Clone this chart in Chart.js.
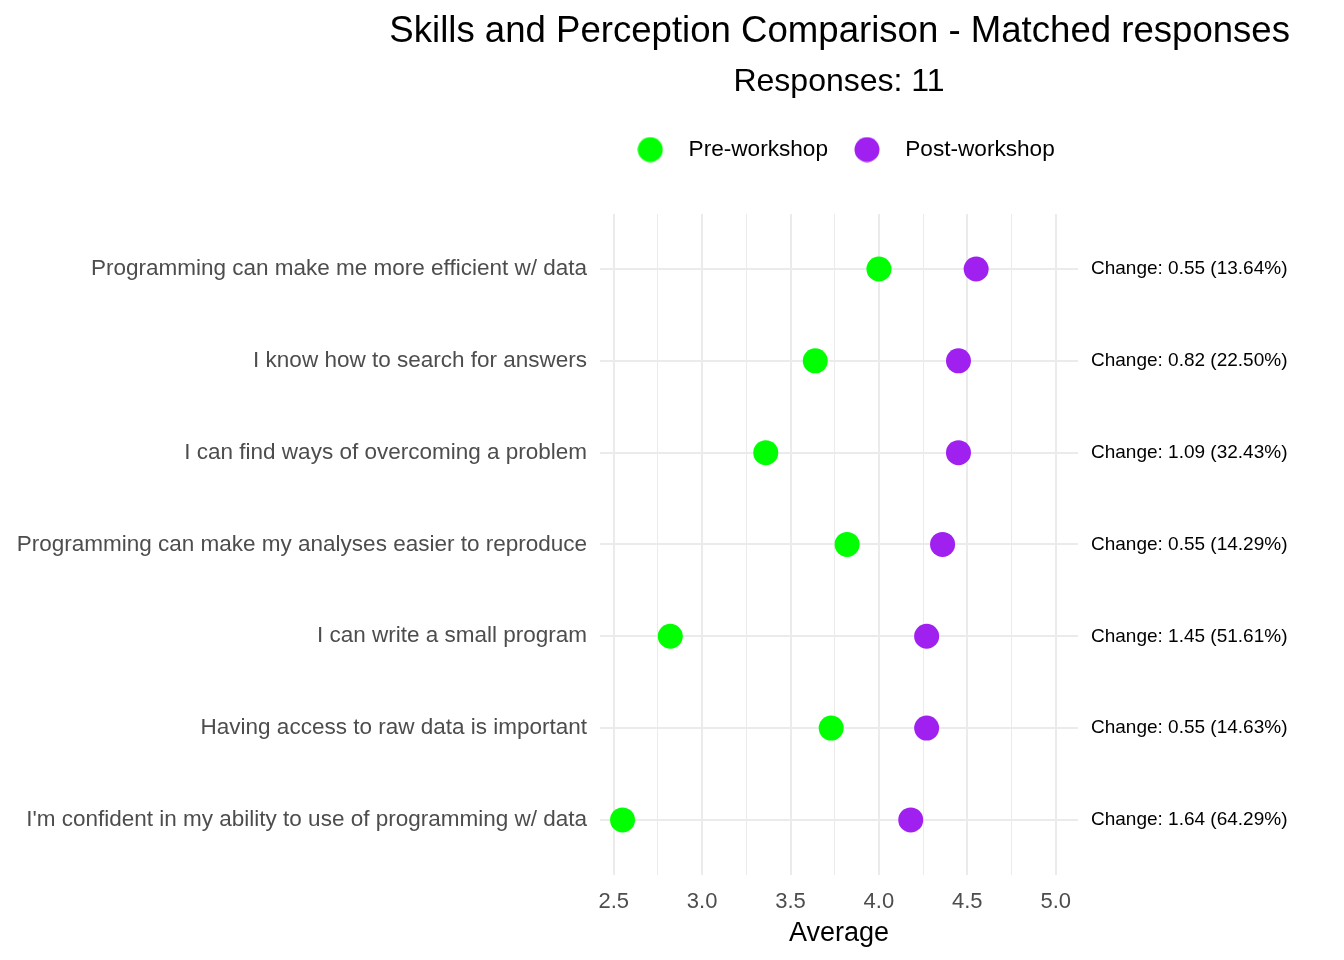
<!DOCTYPE html>
<html>
<head>
<meta charset="utf-8">
<title>Skills and Perception Comparison</title>
<script src="https://cdn.jsdelivr.net/npm/chart.js@4"></script>
<style>
  html, body { margin: 0; padding: 0; background: #fff; }
  #wrap { width: 1344px; height: 960px; }
</style>
</head>
<body>
<div id="wrap"><canvas id="chart"></canvas></div>
<script>
// Data
const questions = [
  'Programming can make me more efficient w/ data',
  'I know how to search for answers',
  'I can find ways of overcoming a problem',
  'Programming can make my analyses easier to reproduce',
  'I can write a small program',
  'Having access to raw data is important',
  "I'm confident in my ability to use of programming w/ data"
];
const preWorkshop = [4.00, 3.64, 3.36, 3.82, 2.82, 3.73, 2.55];
const postWorkshop = [4.55, 4.45, 4.45, 4.36, 4.27, 4.27, 4.18];
const changeLabels = [
  'Change: 0.55 (13.64%)',
  'Change: 0.82 (22.50%)',
  'Change: 1.09 (32.43%)',
  'Change: 0.55 (14.29%)',
  'Change: 1.45 (51.61%)',
  'Change: 0.55 (14.63%)',
  'Change: 1.64 (64.29%)'
];
const xTicks = [2.5, 3.0, 3.5, 4.0, 4.5, 5.0];

const FONT = "'Liberation Sans', Arial, sans-serif";
const GREEN = '#00ff00';
const PURPLE = '#a020f0';
const GRID = '#ebebeb';

// minor gridlines sit halfway between the major ticks
const gridValues = [];
xTicks.forEach((v, i) => {
  gridValues.push(v);
  if (i < xTicks.length - 1) gridValues.push((v + xTicks[i + 1]) / 2);
});

// small round swatch for the legend
function dot(color) {
  const c = document.createElement('canvas');
  c.width = 26; c.height = 26;
  const g = c.getContext('2d');
  g.fillStyle = color;
  g.beginPath();
  g.arc(13, 13, 12.5, 0, Math.PI * 2);
  g.fill();
  return c;
}
const swatches = [dot(GREEN), dot(PURPLE)];

function toPoints(values) {
  return values.map((v, i) => ({ x: v, y: i }));
}

const rowTicks = s => { s.ticks = questions.map((q, i) => ({ value: i })); };

new Chart(document.getElementById('chart'), {
  type: 'scatter',
  data: {
    datasets: [
      {
        label: 'Pre-workshop',
        data: toPoints(preWorkshop),
        backgroundColor: GREEN,
        borderWidth: 0,
        pointRadius: 12.5,
        pointHoverRadius: 12.5
      },
      {
        label: 'Post-workshop',
        data: toPoints(postWorkshop),
        backgroundColor: PURPLE,
        borderWidth: 0,
        pointRadius: 12.5,
        pointHoverRadius: 12.5
      }
    ]
  },
  options: {
    responsive: true,
    maintainAspectRatio: false,
    animation: false,
    layout: { padding: { left: 0, right: 54, top: 0, bottom: 4 } },
    plugins: {
      title: {
        display: true,
        text: 'Skills and Perception Comparison - Matched responses',
        align: 'end',
        color: '#000',
        font: { family: FONT, size: 36.6, weight: 'normal', lineHeight: 1.2 },
        padding: { top: 10, bottom: 9 }
      },
      subtitle: {
        display: true,
        text: 'Responses: 11',
        fullSize: false,
        color: '#000',
        font: { family: FONT, size: 32, weight: 'normal', lineHeight: 1.2 },
        padding: { top: 0, bottom: 25 }
      },
      legend: {
        position: 'top',
        fullSize: false,
        labels: {
          usePointStyle: true,
          pointStyleWidth: 54,
          padding: 12,
          color: '#000',
          font: { family: FONT, size: 22.6 },
          generateLabels: chart => chart.data.datasets.map((ds, i) => ({
            text: ds.label,
            pointStyle: swatches[i],
            fillStyle: ds.backgroundColor,
            strokeStyle: ds.backgroundColor,
            lineWidth: 0,
            fontColor: '#000',
            datasetIndex: i,
            hidden: !chart.isDatasetVisible(i)
          }))
        }
      },
      tooltip: { enabled: false }
    },
    scales: {
      x: {
        type: 'linear',
        min: 2.4225,
        max: 5.126,
        afterBuildTicks: s => { s.ticks = gridValues.map(v => ({ value: v })); },
        afterFit: s => { s.height = 81; },
        border: { display: false },
        grid: {
          color: GRID,
          drawTicks: false,
          lineWidth: ctx => (xTicks.includes(ctx.tick.value) ? 2 : 1)
        },
        ticks: {
          padding: 14,
          color: '#4d4d4d',
          font: { family: FONT, size: 22 },
          autoSkip: false,
          maxRotation: 0,
          callback: v => (xTicks.includes(v) ? v.toFixed(1) : '')
        },
        title: {
          display: true,
          text: 'Average',
          color: '#000',
          font: { family: FONT, size: 27 },
          padding: { top: 2, bottom: 6 }
        }
      },
      xTop: {
        type: 'linear',
        position: 'top',
        display: true,
        afterFit: s => { s.height = 43; },
        border: { display: false },
        grid: { display: false },
        ticks: { display: false }
      },
      y: {
        type: 'linear',
        reverse: true,
        min: -0.6,
        max: 6.6,
        afterBuildTicks: rowTicks,
        afterFit: s => { s.width = 600; },
        border: { display: false },
        grid: { color: GRID, lineWidth: 2, drawTicks: false },
        ticks: {
          padding: 13,
          autoSkip: false,
          color: '#4d4d4d',
          font: { family: FONT, size: 22.5 },
          callback: v => questions[v]
        }
      },
      y2: {
        type: 'linear',
        position: 'right',
        reverse: true,
        min: -0.6,
        max: 6.6,
        afterBuildTicks: rowTicks,
        afterFit: s => { s.width = 212; },
        border: { display: false },
        grid: { display: false, drawTicks: false },
        ticks: {
          padding: 13,
          autoSkip: false,
          color: '#000',
          font: { family: FONT, size: 19 },
          callback: v => changeLabels[v]
        }
      }
    }
  }
});
</script>
</body>
</html>
